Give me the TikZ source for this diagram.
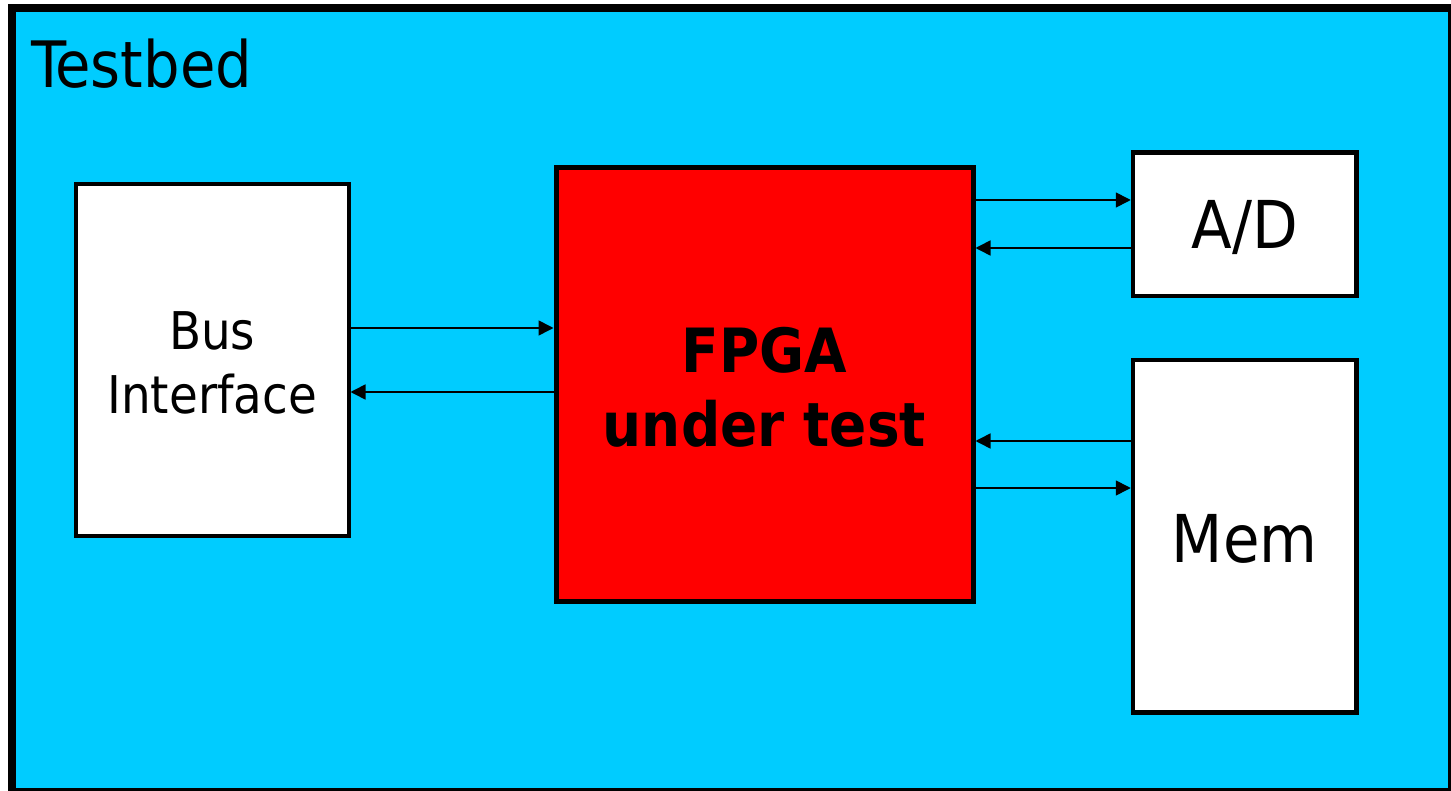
\documentclass[tikz,border=0pt]{standalone}
\usepackage{fontspec}
\setmainfont{DejaVu Sans Condensed}
\usetikzlibrary{arrows.meta}
\definecolor{bedcyan}{RGB}{0,204,255}
\definecolor{fpgared}{RGB}{255,0,0}
\tikzset{
  blockbox/.style={draw=black, fill=white, line width=4.5pt, inner sep=0pt},
  boxtext/.style={inner sep=0pt, align=center, yshift=-3pt},
  arr/.style={line width=1.6pt, -{Triangle[length=15pt,width=15pt]}},
}
\begin{document}
\begin{tikzpicture}[x=1pt,y=-1pt]
\useasboundingbox (0,0) rectangle (1451,791);
\begin{scope}
\clip (0,0) rectangle (1451,791);
\fill[white] (0,0) rectangle (1451,791);
\draw[line width=8pt, fill=bedcyan] (12,8.5) rectangle (1452,792);
\end{scope}
\node[anchor=base west, inner sep=0pt, font=\fontsize{64}{70}\selectfont] (title) at (31,88) {Testbed};
\node[blockbox, line width=4pt, minimum width=272.5pt, minimum height=351.5pt] (bus) at (212.25,360.25) {};
\node[blockbox, fill=fpgared, line width=5pt, minimum width=417pt, minimum height=433pt] (fpga) at (764.5,384.5) {};
\node[blockbox, minimum width=223.5pt, minimum height=143.5pt] (ad) at (1244.75,224.25) {};
\node[blockbox, minimum width=223.5pt, minimum height=352.5pt] (mem) at (1244.75,536.25) {};
\node[boxtext, font=\fontsize{52}{64}\selectfont] (bustext) at (bus.center) {Bus\\Interface};
\node[boxtext, font=\fontsize{61}{74}\selectfont\bfseries] (fpgatext) at (fpga.center) {FPGA\\under test};
\node[boxtext, font=\fontsize{66}{72}\selectfont] (adtext) at (ad.center) {A/D};
\node[boxtext, font=\fontsize{66}{72}\selectfont] (memtext) at (mem.center) {Mem};
\draw[arr] (fpga.east |- 0,200) -- (ad.west |- 0,200);
\draw[arr] (ad.west |- 0,248) -- (fpga.east |- 0,248);
\draw[arr] (bus.east |- 0,328) -- (fpga.west |- 0,328);
\draw[arr] (fpga.west |- 0,392) -- (bus.east |- 0,392);
\draw[arr] (mem.west |- 0,441) -- (fpga.east |- 0,441);
\draw[arr] (fpga.east |- 0,488) -- (mem.west |- 0,488);
\end{tikzpicture}
\end{document}
